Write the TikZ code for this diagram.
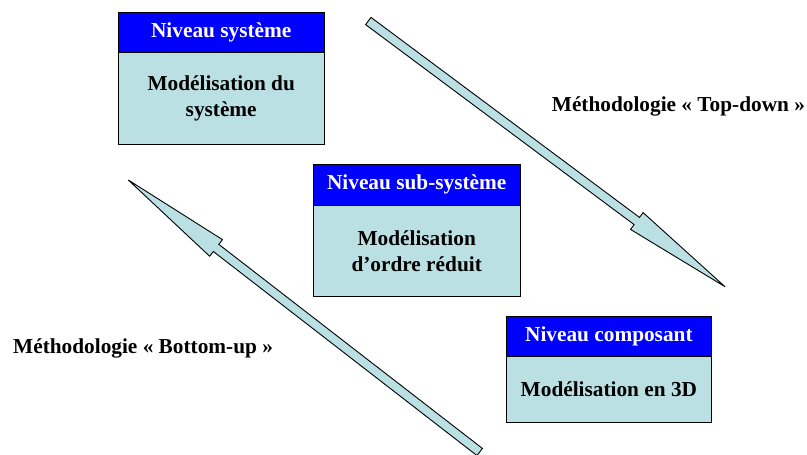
\documentclass[tikz,border=0pt]{standalone}
\usepackage{fontspec}
\setmainfont{Liberation Serif}
\usetikzlibrary{calc}
\definecolor{hdrblue}{RGB}{0,0,255}
\definecolor{bodycyan}{RGB}{187,224,227}
\tikzset{
  hdr/.style={draw=black, line width=1pt, fill=hdrblue, text=white, inner sep=0pt,
    font=\fontsize{21.3}{25.7}\selectfont\bfseries, align=center},
  bodybox/.style={draw=black, line width=1pt, fill=bodycyan, text=black, inner sep=0pt,
    font=\fontsize{21.3}{25.7}\selectfont\bfseries, align=center},
  lbl/.style={inner sep=0pt, font=\fontsize{21.3}{25.7}\selectfont\bfseries, anchor=base west},
  blockarrow/.style={draw=black, line width=0.9pt, fill=bodycyan, line join=miter}
}
\begin{document}
\begin{tikzpicture}[x=1pt,y=-1pt]
\useasboundingbox (0,0) rectangle (807,455);
% box 1
\node[bodybox, minimum width=205.7pt, minimum height=92pt] (b1) at (221.2,98.3) {Modélisation du\\système};
\node[hdr, minimum width=205.7pt, minimum height=39.6pt] (h1) at (221.2,32.5) {Niveau système};
% box 2
\node[bodybox, minimum width=206.7pt, minimum height=91.7pt] (b2) at (416.7,250.9) {Modélisation\\d’ordre réduit};
\node[hdr, minimum width=206.7pt, minimum height=40.7pt] (h2) at (416.7,184.7) {Niveau sub-système};
% box 3
\node[bodybox, minimum width=205.7pt, minimum height=65.6pt] (b3) at (608.9,389.5) {Modélisation en 3D};
\node[hdr, minimum width=205.7pt, minimum height=40pt] (h3) at (608.9,336.7) {Niveau composant};
% labels
\node[lbl] (ltd) at (551.7,111) {Méthodologie « Top-down »};
\node[lbl] (lbu) at (13,353) {Méthodologie « Bottom-up »};
% top-down arrow
\coordinate (tA) at (368.3,21);
\coordinate (tB) at (725,286.7);
\coordinate (tH) at ($(tB)!110pt!(tA)$);
\draw[blockarrow] ($(tA)!4.5pt!90:(tB)$) -- ($(tH)!4.5pt!90:(tB)$) -- ($(tH)!10.5pt!90:(tB)$) -- (tB)
  -- ($(tH)!10.5pt!-90:(tB)$) -- ($(tH)!4.5pt!-90:(tB)$) -- ($(tA)!4.5pt!-90:(tB)$) -- cycle;
% bottom-up arrow
\coordinate (bA) at (479.7,452);
\coordinate (bB) at (128.3,180);
\coordinate (bH) at ($(bB)!111pt!(bA)$);
\draw[blockarrow] ($(bA)!4.5pt!90:(bB)$) -- ($(bH)!4.5pt!90:(bB)$) -- ($(bH)!10.5pt!90:(bB)$) -- (bB)
  -- ($(bH)!10.5pt!-90:(bB)$) -- ($(bH)!4.5pt!-90:(bB)$) -- ($(bA)!4.5pt!-90:(bB)$) -- cycle;
\end{tikzpicture}
\end{document}
